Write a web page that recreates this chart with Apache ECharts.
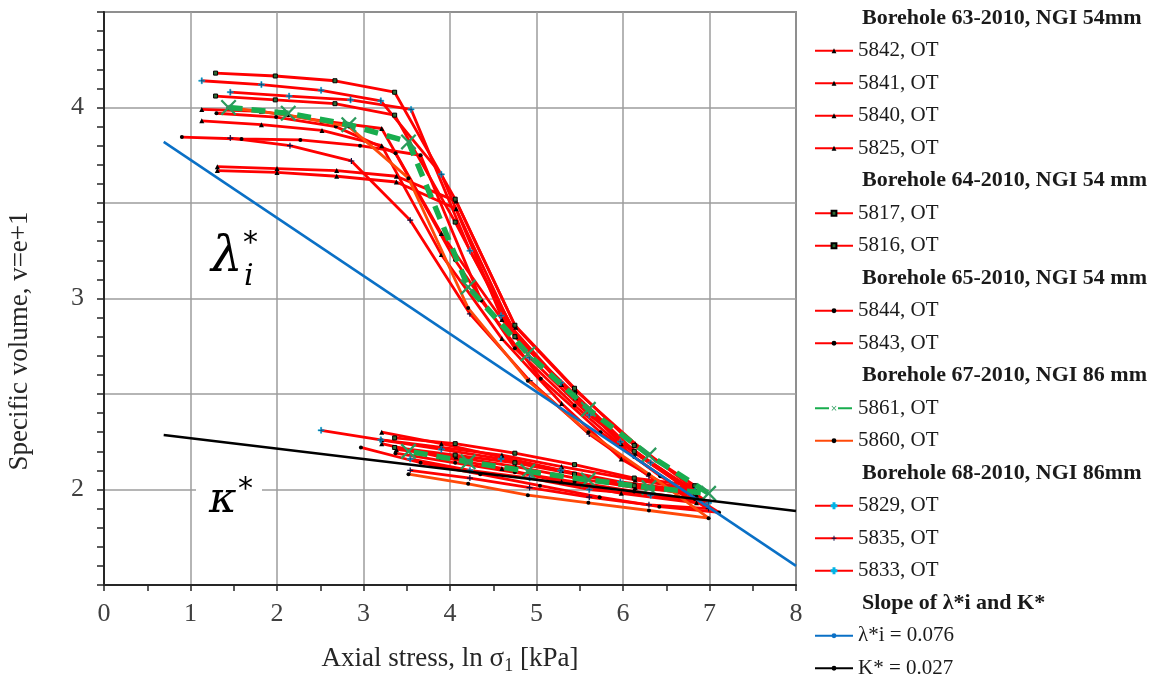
<!DOCTYPE html>
<html>
<head>
<meta charset="utf-8">
<script src="https://cdn.jsdelivr.net/npm/echarts@6/dist/echarts.min.js"></script>
<style>
  html, body { margin: 0; padding: 0; background: #ffffff; }
  #chart { width: 1150px; height: 680px; }
</style>
</head>
<body>
<div id="chart"></div>
<script>
// Oedometer tests: specific volume v = e + 1 against ln of axial stress.
// Each test is one loading branch followed by its unloading branch.

const lnS5842 = [1.13, 1.82, 2.52, 3.21, 3.90, 4.60, 5.29, 5.98, 6.85, 5.98, 5.29, 4.60, 3.90, 3.21];
const v5842   = [3.99, 3.98, 3.93, 3.89, 3.34, 2.89, 2.55, 2.24, 1.97, 2.03, 2.10, 2.17, 2.24, 2.30];

const lnS5841 = [1.13, 1.82, 2.52, 3.21, 3.90, 4.60, 5.29, 5.98, 6.85, 5.98, 5.29, 4.60, 3.90, 3.21];
const v5841   = [3.93, 3.91, 3.88, 3.80, 3.23, 2.79, 2.45, 2.16, 1.93, 1.98, 2.04, 2.11, 2.17, 2.24];

const lnS5840 = [1.31, 2.00, 2.69, 3.38, 4.07, 4.76, 5.45, 6.14, 6.83, 6.14, 5.29, 4.60, 3.90, 3.21];
const v5840   = [3.69, 3.68, 3.67, 3.64, 3.51, 2.85, 2.52, 2.24, 2.00, 2.05, 2.12, 2.18, 2.22, 2.26];

const lnS5825 = [1.31, 2.00, 2.69, 3.38, 4.07, 4.76, 5.45, 6.14, 6.83, 6.14, 5.45, 4.76, 4.07, 3.38];
const v5825   = [3.67, 3.66, 3.64, 3.61, 3.47, 2.80, 2.48, 2.19, 1.98, 2.01, 2.06, 2.12, 2.17, 2.21];

const lnS5817 = [1.29, 1.98, 2.67, 3.36, 4.06, 4.75, 5.44, 6.13, 6.83, 6.13, 5.44, 4.75, 4.06, 3.36];
const v5817   = [4.18, 4.165, 4.14, 4.08, 3.52, 2.86, 2.53, 2.23, 2.02, 2.06, 2.13, 2.19, 2.24, 2.27];

const lnS5816 = [1.29, 1.98, 2.67, 3.36, 4.06, 4.75, 5.44, 6.13, 6.83, 6.13, 5.44, 4.75, 4.06, 3.36];
const v5816   = [4.06, 4.04, 4.02, 3.96, 3.40, 2.80, 2.50, 2.20, 1.99, 2.02, 2.08, 2.14, 2.18, 2.22];

const lnS5844 = [0.90, 1.59, 2.27, 2.96, 3.66, 4.36, 5.05, 5.74, 6.43, 7.11, 6.42, 5.73, 5.04, 4.35, 3.66, 2.97];
const v5844   = [3.845, 3.835, 3.83, 3.80, 3.75, 2.99, 2.58, 2.30, 2.07, 1.88, 1.91, 1.96, 2.02, 2.08, 2.14, 2.22];

const lnS5843 = [1.30, 1.99, 2.68, 3.37, 4.06, 4.75, 5.44, 6.13, 6.83, 6.13, 5.44, 4.75, 4.06, 3.37];
const v5843   = [3.97, 3.95, 3.90, 3.76, 3.20, 2.74, 2.44, 2.17, 1.95, 1.99, 2.04, 2.09, 2.14, 2.19];

const lnS5861 = [1.44, 2.13, 2.83, 3.52, 4.21, 4.90, 5.60, 6.30, 6.99, 6.30, 5.60, 4.90, 4.21, 3.52];
const v5861   = [4.00, 3.97, 3.91, 3.82, 3.06, 2.71, 2.42, 2.18, 1.98, 2.01, 2.05, 2.095, 2.145, 2.20];

const lnS5860 = [1.44, 2.13, 2.83, 3.52, 4.21, 4.90, 5.60, 6.30, 6.99, 6.30, 5.60, 4.90, 4.21, 3.52];
const v5860   = [4.00, 3.96, 3.90, 3.63, 2.95, 2.57, 2.30, 2.08, 1.85, 1.89, 1.93, 1.97, 2.03, 2.08];

const lnS5829 = [1.13, 1.82, 2.51, 3.20, 3.90, 4.59, 5.28, 5.97, 6.83, 5.97, 5.28, 4.59, 3.90, 3.20, 2.51];
const v5829   = [4.14, 4.12, 4.09, 4.035, 3.65, 2.91, 2.56, 2.25, 1.99, 2.04, 2.10, 2.16, 2.21, 2.26, 2.31];

const lnS5835 = [1.46, 2.15, 2.86, 3.54, 4.23, 4.92, 5.61, 6.30, 6.99, 6.30, 5.61, 4.92, 4.23, 3.54];
const v5835   = [3.84, 3.80, 3.72, 3.41, 2.92, 2.57, 2.29, 2.07, 1.90, 1.92, 1.96, 2.01, 2.06, 2.10];

const lnS5833 = [1.46, 2.14, 2.85, 3.55, 4.23, 4.92, 5.61, 6.32, 6.99, 6.32, 5.61, 4.92, 4.23, 3.54];
const v5833   = [4.08, 4.06, 4.04, 3.99, 3.25, 2.69, 2.39, 2.14, 1.93, 1.97, 2.00, 2.06, 2.10, 2.16];

// Fitted slopes: lambda*_i (compression) and kappa* (swelling)
const lnSLambda = [0.69, 8.0];
const vLambda   = [3.82, 1.60];
const lnSKappa  = [0.69, 8.0];
const vKappa    = [2.285, 1.887];

const xTicks = [0, 1, 2, 3, 4, 5, 6, 7, 8];
const yTickLabels = [2, 3, 4];

const boreholes = [
  'Borehole 63-2010, NGI 54mm',
  'Borehole 64-2010, NGI 54 mm',
  'Borehole 65-2010, NGI 54 mm',
  'Borehole 67-2010, NGI 86 mm',
  'Borehole 68-2010, NGI 86mm',
  'Slope of λ*i and K*'
];

const FONT = 'Liberation Serif';
const RED = '#ff0000';
const ORANGE = '#ff4a0a';
const GREEN = '#18ad4e';
const plusPath = 'path://M4,0H6V4H10V6H6V10H4V6H0V4H4Z';
const crossPath = 'path://M1,0L5,4L9,0L10,1L6,5L10,9L9,10L5,6L1,10L0,9L4,5L0,1Z';

const pairs = (xs, vs) => xs.map((x, i) => [x, vs[i]]);

const markers = {
  tri:  { symbol: 'triangle', symbolSize: 5, itemStyle: { color: '#000000' } },
  sq:   { symbol: 'rect', symbolSize: 4, itemStyle: { color: '#2d6b36', borderColor: '#000000', borderWidth: 1 } },
  dot:  { symbol: 'circle', symbolSize: 4, itemStyle: { color: '#000000' } },
  plusC:{ symbol: plusPath, symbolSize: 6, itemStyle: { color: '#0a3a66', borderColor: '#00b4e6', borderWidth: 0.6 } },
  plusD:{ symbol: plusPath, symbolSize: 6, itemStyle: { color: '#101040' } }
};

function test(name, xs, vs, mark, color) {
  return Object.assign({
    type: 'line',
    name: name,
    data: pairs(xs, vs),
    showSymbol: true,
    showAllSymbol: true,
    lineStyle: { color: color || RED, width: 2.8 },
    emphasis: { disabled: true },
    z: 2
  }, markers[mark]);
}

const headerSeries = boreholes.map(h => ({ type: 'line', name: h, data: [], silent: true }));

const series = [
  ...headerSeries,
  test('5842, OT', lnS5842, v5842, 'tri'),
  test('5841, OT', lnS5841, v5841, 'tri'),
  test('5840, OT', lnS5840, v5840, 'tri'),
  test('5825, OT', lnS5825, v5825, 'tri'),
  test('5817, OT', lnS5817, v5817, 'sq'),
  test('5816, OT', lnS5816, v5816, 'sq'),
  test('5844, OT', lnS5844, v5844, 'dot'),
  test('5843, OT', lnS5843, v5843, 'dot'),
  test('5829, OT', lnS5829, v5829, 'plusC'),
  test('5835, OT', lnS5835, v5835, 'plusD'),
  test('5833, OT', lnS5833, v5833, 'plusC'),
  Object.assign(test('5860, OT', lnS5860, v5860, 'dot', ORANGE), { z: 3 }),
  {
    type: 'line', name: '5861, OT', data: pairs(lnS5861, v5861),
    symbol: crossPath, symbolSize: 16,
    itemStyle: { color: '#2b9a5c' },
    lineStyle: { color: GREEN, width: 5.5, type: [14, 9] },
    emphasis: { disabled: true }, z: 4
  },
  {
    type: 'line', name: 'λ*i = 0.076', data: pairs(lnSLambda, vLambda),
    symbol: 'none', lineStyle: { color: '#0a70c6', width: 2.5 },
    itemStyle: { color: '#0a70c6' }, emphasis: { disabled: true }, z: 5
  },
  {
    type: 'line', name: 'K* = 0.027', data: pairs(lnSKappa, vKappa),
    symbol: 'none', lineStyle: { color: '#000000', width: 2.5 },
    itemStyle: { color: '#000000' }, emphasis: { disabled: true }, z: 5
  }
];

const hdr = name => ({ name: name, icon: 'none', textStyle: { fontWeight: 'bold', fontSize: 22, padding: [0, 0, 0, 4] } });
const legendData = [
  hdr(boreholes[0]), '5842, OT', '5841, OT', '5840, OT', '5825, OT',
  hdr(boreholes[1]), '5817, OT', '5816, OT',
  hdr(boreholes[2]), '5844, OT', '5843, OT',
  hdr(boreholes[3]), '5861, OT', '5860, OT',
  hdr(boreholes[4]), '5829, OT', '5835, OT', '5833, OT',
  hdr(boreholes[5]), 'λ*i = 0.076', 'K* = 0.027'
];

const chart = echarts.init(document.getElementById('chart'), null, { renderer: 'canvas' });

chart.setOption({
  animation: false,
  backgroundColor: '#ffffff',
  grid: {
    left: 104, right: 354, top: 12, bottom: 87,
    show: true, borderColor: '#3a3a3a', borderWidth: 1.5
  },
  xAxis: {
    type: 'value', min: xTicks[0], max: xTicks[xTicks.length - 1], interval: 1,
    name: 'Axial stress, ln σ{s|1} [kPa]',
    nameLocation: 'middle', nameGap: 58,
    nameTextStyle: {
      fontFamily: FONT, fontSize: 27, color: '#262626',
      rich: { s: { fontFamily: FONT, fontSize: 18, color: '#262626', padding: [14, 0, 0, 0] } }
    },
    axisLine: { show: true, lineStyle: { color: '#262626', width: 2 } },
    axisTick: { show: true, inside: false, length: 6, lineStyle: { color: '#262626', width: 1.5 } },
    minorTick: { show: true, splitNumber: 2, length: 6, lineStyle: { color: '#262626', width: 1.5 } },
    axisLabel: { fontFamily: FONT, fontSize: 26, color: '#404040', margin: 16 },
    splitLine: { show: true, lineStyle: { color: '#9c9c9c', width: 1.5 } }
  },
  yAxis: {
    type: 'value', min: 1.5, max: 4.5, interval: 0.5,
    axisLine: { show: true, lineStyle: { color: '#262626', width: 2 } },
    axisTick: { show: true, inside: false, length: 7, lineStyle: { color: '#262626', width: 1.5 } },
    minorTick: { show: true, splitNumber: 5, length: 7, lineStyle: { color: '#262626', width: 1.5 } },
    axisLabel: {
      fontFamily: FONT, fontSize: 26, color: '#404040', margin: 20,
      formatter: v => (yTickLabels.some(t => Math.abs(t - v) < 1e-6) ? String(Math.round(v)) : '')
    },
    splitLine: { show: true, lineStyle: { color: '#9c9c9c', width: 1.5 } }
  },
  legend: {
    orient: 'vertical', left: 814, top: 7, padding: 0,
    itemWidth: 38, itemHeight: 6, itemGap: 10,
    selectedMode: false,
    textStyle: { fontFamily: FONT, fontSize: 21, color: '#1a1a1a', lineHeight: 22.5 },
    data: legendData
  },
  graphic: [
    {
      type: 'text', x: 20, y: 341, rotation: Math.PI / 2,
      style: { text: 'Specific volume, v=e+1', font: '27px "Liberation Serif"', fill: '#262626',
               textAlign: 'center', textVerticalAlign: 'middle' }
    },
    { type: 'text', left: 211, top: 233, style: { text: 'λ', font: 'italic 50px "DejaVu Serif"', fill: '#000' } },
    { type: 'text', left: 243, top: 229, style: { text: '*', font: '30px "DejaVu Sans"', fill: '#000' } },
    { type: 'text', left: 244, top: 262, style: { text: 'i', font: 'italic 30px "DejaVu Serif"', fill: '#000' } },
    { type: 'rect', left: 196, top: 472, shape: { width: 66, height: 44 }, style: { fill: '#ffffff' }, z: 10 },
    { type: 'text', left: 209, top: 480, z: 11, style: { text: 'κ', font: 'italic 42px "DejaVu Serif"', fill: '#000' } },
    { type: 'text', left: 238, top: 475, z: 11, style: { text: '*', font: '30px "DejaVu Sans"', fill: '#000' } }
  ],
  series: series
});
</script>
</body>
</html>
